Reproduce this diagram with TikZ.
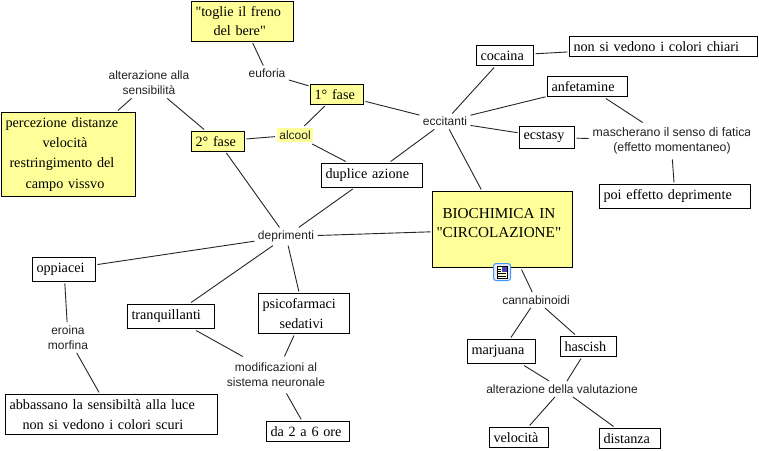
\documentclass[tikz,border=0pt]{standalone}
\usepackage{fontspec}
\setmainfont{Liberation Serif}
\setsansfont{Liberation Sans}
\newfontfamily\qf{Liberation Serif}
\newcommand{\qq}{{\qf"}}
\definecolor{cy}{HTML}{FFFF99}
\definecolor{tc}{HTML}{222222}
\tikzset{
  x=1pt,y=-1pt,
  boxn/.style={draw=black,line width=1pt,inner xsep=4pt,inner ysep=0pt,align=left,font=\fontsize{14.2}{19.5}\selectfont,text=black,outer sep=2pt},
  yel/.style={boxn,fill=cy},
  lab/.style={font=\sffamily\fontsize{12}{15}\selectfont,text=tc,align=center,inner sep=2pt,outer sep=1.5pt},
  link/.style={draw=black!85,line width=0.9pt},
}
\newcommand{\bx}[7][boxn]{% style, name, l, t, r, b, text
  \pgfmathsetmacro{\cxx}{(#3+#5)/2}\pgfmathsetmacro{\cyy}{(#4+#6)/2}
  \pgfmathsetmacro{\ww}{#5-#3-8}\pgfmathsetmacro{\hh}{#6-#4}
  \node[#1,text width=\ww pt,minimum height=\hh pt] (#2) at (\cxx,\cyy) {\raisebox{-0.7pt}{\parbox{\ww pt}{\raggedright #7}}};}
\begin{document}
\begin{tikzpicture}
\useasboundingbox (0,0) rectangle (759,450);
\fill[white] (0,0) rectangle (759,450);
% boxes
\bx[yel]{tog}{191.5}{1.5}{293.5}{41}{\qq toglie il freno\\\hspace*{18pt}del bere\qq}
\bx[yel]{f1}{310.5}{84.5}{363.5}{104}{1° fase}
\bx[yel]{f2}{191.5}{131.5}{244.5}{151}{2° fase}
\bx[yel]{perc}{1.5}{112.5}{135.5}{196}{\fontsize{14.2}{20.3}\selectfont percezione distanze\\\hspace*{37pt}velocità\\\hspace*{4pt}restringimento del\\\hspace*{20pt}campo vissvo}
\bx{dup}{321.5}{163.5}{422.5}{187}{duplice azione}
\bx{coc}{476.5}{45.5}{533.5}{65.5}{cocaina}
\bx{nonsi}{569.5}{36.5}{757.5}{56.5}{non si vedono i colori chiari}
\bx{anf}{547.5}{76.5}{627.5}{96.5}{anfetamine}
\bx{ecs}{519.5}{126.5}{574.5}{148}{ecstasy}
\bx{poi}{599.5}{184.5}{750.5}{208}{poi effetto deprimente}
\bx[yel]{bio}{432.5}{191.5}{572.5}{267.5}{\fontsize{15.2}{19.5}\selectfont\hspace*{6pt}BIOCHIMICA IN\\\qq CIRCOLAZIONE\qq\\[-6.5pt]\mbox{}}
\bx{opp}{32.5}{257.5}{95.5}{281.5}{oppiacei}
\bx{tra}{127.5}{304.5}{214.5}{328.5}{tranquillanti}
\bx{psi}{258.5}{293.5}{349.5}{333.5}{psicofarmaci\\\hspace*{17pt}sedativi}
\bx{abb}{5.5}{394.5}{217.5}{434.5}{abbassano la sensibiltà alla luce\\\hspace*{13pt}non si vedono i colori scuri}
\bx{da2}{266.5}{421.5}{349.5}{441.5}{da 2 a 6 ore}
\bx{mar}{467.5}{339.5}{535.5}{363.5}{marjuana}
\bx{has}{560.5}{336.5}{616.5}{356.5}{hascish}
\bx{vel}{489.5}{427.5}{548.5}{447.5}{velocità}
\bx{dis}{599.5}{428.5}{660.5}{448.5}{distanza}
% alcool
\node[lab,fill=cy,minimum width=36pt,minimum height=14pt,inner sep=0pt,outer sep=2pt] (alc) at (295,135) {alcool};
% labels
\node[lab] (alts) at (149,83) {alterazione alla\\sensibilità};
\node[lab] (euf) at (267,73.5) {euforia};
\node[lab] (ecc) at (445,121.5) {eccitanti};
\node[lab,minimum width=162pt,minimum height=34pt] (mas) at (671,141) {};
\begin{scope}
\clip (585,125) rectangle (749.5,157);
\node[lab,font=\sffamily\fontsize{12.3}{15}\selectfont] at (672,141) {mascherano il senso di fatica\\(effetto momentaneo)};
\end{scope}
\node[lab] (dep) at (286,236.5) {deprimenti};
\node[lab] (ero) at (68,337.5) {eroina\\morfina};
\node[lab,minimum width=100pt,minimum height=34pt] (mod) at (276,375) {};
\begin{scope}
\clip (220,358) rectangle (324.5,392);
\node[lab] at (276,375) {modificazioni al\\sistema neuronale};
\end{scope}
\node[lab] (can) at (536,300) {cannabinoidi};
\node[lab] (alv) at (562,389) {alterazione della valutazione};
% connectors
\foreach \a/\b in {tog/euf,euf/f1,f1/ecc,f1/alc,alc/f2,alc/dup,dup/ecc,dup/dep,f2/dep,f2/alts,alts/perc,
  ecc/coc,coc/nonsi,ecc/anf,ecc/ecs,ecc/bio,anf/mas,ecs/mas,mas/poi,dep/bio,dep/opp,dep/tra,dep/psi,
  opp/ero,ero/abb,tra/mod,psi/mod,mod/da2,bio/can,can/mar,can/has,mar/alv,has/alv,alv/vel,alv/dis}
  \draw[link] (\a) -- (\b);
% icon
\begin{scope}
\draw[draw=blue!55!cyan!75,fill=blue!8,rounded corners=2.5pt,line width=1pt] (493.5,263.5) rectangle (510.5,280.5);
\fill[cy!40,draw=black,line width=0.7pt] (497,266.5) rectangle (507,278);
\fill[blue!45!gray] (501.5,267) rectangle (506.5,271.5);
\foreach \yy in {269,271.5}{\draw[black,line width=0.6pt] (498,\yy) -- (500.8,\yy);}
\foreach \yy in {273.5,275.8}{\draw[black,line width=0.6pt] (498,\yy) -- (506,\yy);}
\end{scope}
\end{tikzpicture}
\end{document}
